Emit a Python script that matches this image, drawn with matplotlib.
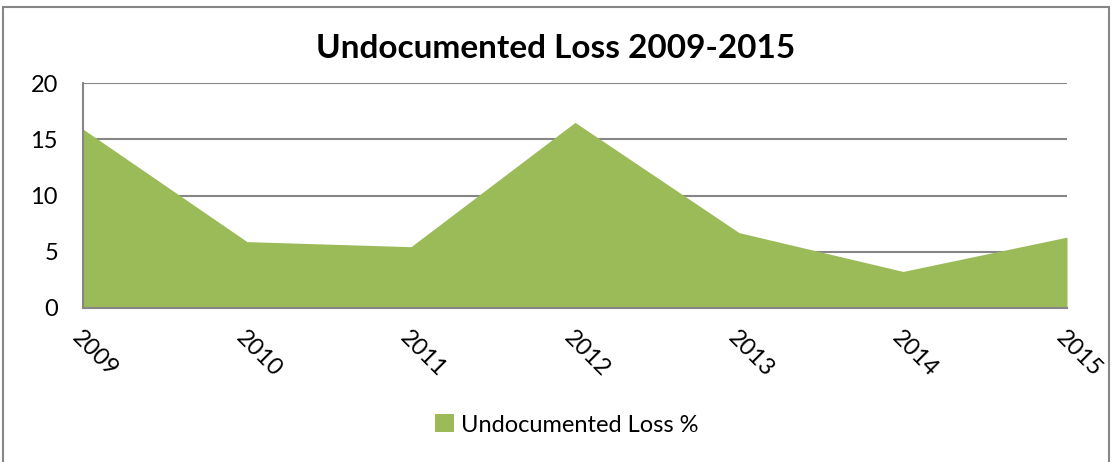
#!/usr/bin/env python3
import matplotlib.pyplot as plt
from matplotlib.patches import Rectangle

years = ["2009", "2010", "2011", "2012", "2013", "2014", "2015"]
loss_pct = [15.9, 5.9, 5.45, 16.5, 6.7, 3.25, 6.3]
y_ticks = [0, 5, 10, 15, 20]

plt.rcParams["font.family"] = ["Lato", "DejaVu Sans"]

GREEN = "#9bbb59"
GRID = "#868686"


def main():
    fig = plt.figure(figsize=(11.12, 4.62), dpi=100)
    ax = fig.add_axes([83 / 1112, 1 - 308 / 462, (1067 - 83) / 1112, (308 - 83) / 462])

    x = list(range(len(years)))
    ax.fill_between(x, loss_pct, 0, color=GREEN, linewidth=0, label="Undocumented Loss %", zorder=2)

    ax.set_xlim(0, len(years) - 1)
    ax.set_ylim(0, 20)
    ax.set_yticks(y_ticks)
    ax.set_yticklabels([str(v) for v in y_ticks], fontsize=17)
    ax.set_xticks(x)
    ax.set_xticklabels(years, fontsize=17, rotation=-45, ha="left", va="top",
                       rotation_mode="anchor")
    ax.tick_params(axis="y", length=0, pad=18)
    ax.tick_params(axis="x", length=0, pad=14)

    ax.grid(axis="y", color=GRID, linewidth=1.5, zorder=1)
    ax.set_axisbelow(True)
    for side in ("top", "right"):
        ax.spines[side].set_visible(False)
    for side in ("left", "bottom"):
        ax.spines[side].set_color(GRID)
        ax.spines[side].set_linewidth(1.5)

    fig.text(0.5, 1 - 48 / 462, "Undocumented Loss 2009-2015", ha="center", va="center",
             fontsize=24, fontweight="bold")

    fig.legend(loc="center", bbox_to_anchor=(0.51, 1 - 425 / 462), frameon=False,
               fontsize=17, handlelength=0.8, handleheight=0.8, handletextpad=0.3)

    fig.patches.append(Rectangle((3 / 1112, -0.01), 1106 / 1112, 1 - 7 / 462 + 0.01,
                                 transform=fig.transFigure, fill=False,
                                 edgecolor=GRID, linewidth=1.5))

    fig.savefig("out.png", dpi=100)


if __name__ == "__main__":
    main()
